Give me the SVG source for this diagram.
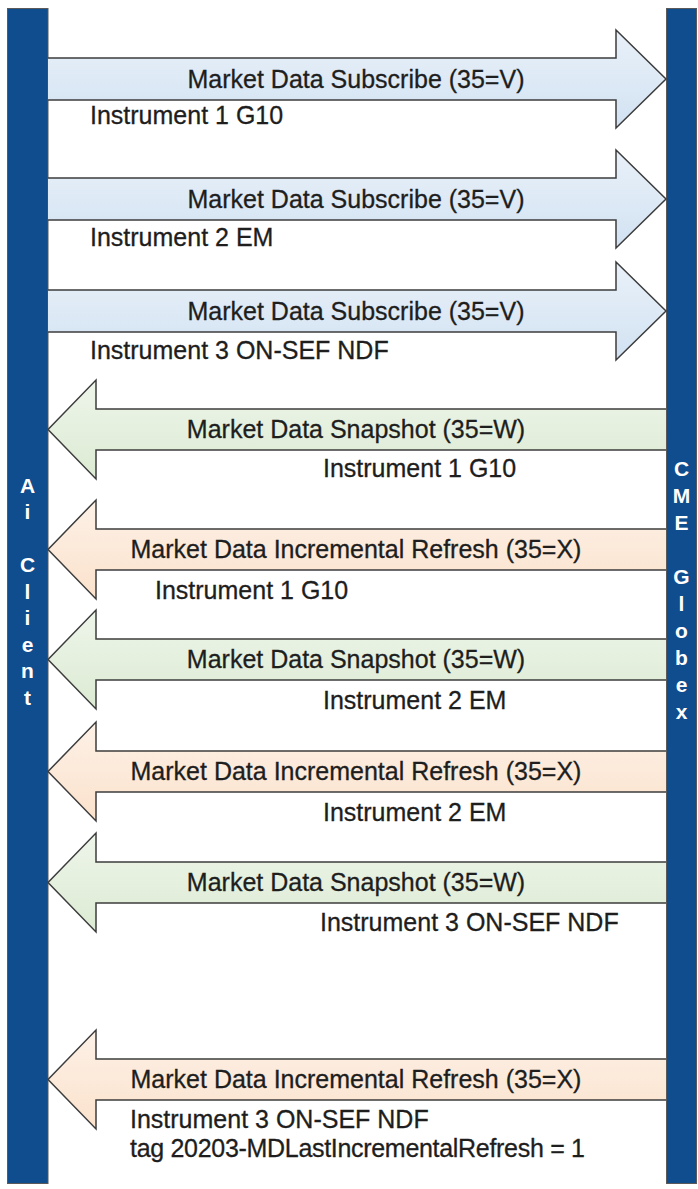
<svg xmlns="http://www.w3.org/2000/svg" width="698" height="1189" viewBox="0 0 698 1189">
<defs>
<linearGradient id="gBlue" x1="0" y1="0" x2="0" y2="1"><stop offset="0" stop-color="#e9f1f9"/><stop offset="1" stop-color="#d2e2f2"/></linearGradient>
<linearGradient id="gGreen" x1="0" y1="0" x2="0" y2="1"><stop offset="0" stop-color="#eef5ea"/><stop offset="1" stop-color="#dcebd3"/></linearGradient>
<linearGradient id="gOrange" x1="0" y1="0" x2="0" y2="1"><stop offset="0" stop-color="#fdf1e7"/><stop offset="1" stop-color="#fbe2cc"/></linearGradient>
</defs>
<style>
.bar{fill:#0f4d8e;stroke:#5a5a5a;stroke-width:1}
.bl{font-family:"Liberation Sans",Arial,sans-serif;font-weight:bold;font-size:21px;fill:#ffffff;text-anchor:middle}
.arr{stroke:#3c3c3c;stroke-width:1.5;stroke-linejoin:miter}
.blue{fill:url(#gBlue)}
.green{fill:url(#gGreen)}
.orange{fill:url(#gOrange)}
.lbl{font-family:"Liberation Sans",Arial,sans-serif;font-size:25px;fill:#1e1e1e;stroke:#1e1e1e;stroke-width:0.3;text-anchor:middle}
.sub{font-family:"Liberation Sans",Arial,sans-serif;font-size:25px;fill:#1e1e1e;stroke:#1e1e1e;stroke-width:0.3}
</style>
<rect width="698" height="1189" fill="#ffffff"/>
<g id="ai-client">
<rect class="bar" x="7.5" y="8.5" width="40.5" height="1175"/>
<text class="bl" x="27.5" y="492.5"><tspan x="27.5">A</tspan><tspan x="27.5" dy="26.5">i</tspan><tspan x="27.5" dy="53">C</tspan><tspan x="27.5" dy="26.5">l</tspan><tspan x="27.5" dy="26.5">i</tspan><tspan x="27.5" dy="26.5">e</tspan><tspan x="27.5" dy="26.5">n</tspan><tspan x="27.5" dy="26.5">t</tspan></text>
</g>
<g id="cme-globex">
<rect class="bar" x="666.5" y="8.5" width="30" height="1175"/>
<text class="bl" x="681.5" y="475.5"><tspan x="681.5">C</tspan><tspan x="681.5" dy="27">M</tspan><tspan x="681.5" dy="27">E</tspan><tspan x="681.5" dy="54">G</tspan><tspan x="681.5" dy="27">l</tspan><tspan x="681.5" dy="27">o</tspan><tspan x="681.5" dy="27">b</tspan><tspan x="681.5" dy="27">e</tspan><tspan x="681.5" dy="27">x</tspan></text>
</g>
<g id="connectors">
<g id="msg1">
<path class="arr blue" d="M48,58 H616 V30 L666,79 L616,128 V100 H48"/>
<text class="lbl" x="356" y="88">Market Data Subscribe (35=V)</text>
<text class="sub" x="90" y="124">Instrument 1 G10</text>
</g>
<g id="msg2">
<path class="arr blue" d="M48,178 H616 V150 L666,199 L616,248 V220 H48"/>
<text class="lbl" x="356" y="208">Market Data Subscribe (35=V)</text>
<text class="sub" x="90" y="246">Instrument 2 EM</text>
</g>
<g id="msg3">
<path class="arr blue" d="M48,290 H616 V262 L666,311 L616,360 V332 H48"/>
<text class="lbl" x="356" y="320">Market Data Subscribe (35=V)</text>
<text class="sub" x="90" y="359">Instrument 3 ON-SEF NDF</text>
</g>
<g id="msg4">
<path class="arr green" d="M666,409 H96 V380 L48,429.5 L96,479 V450 H666"/>
<text class="lbl" x="356" y="438">Market Data Snapshot (35=W)</text>
<text class="sub" x="323" y="477">Instrument 1 G10</text>
</g>
<g id="msg5">
<path class="arr orange" d="M666,529 H96 V500 L48,549.5 L96,599 V570 H666"/>
<text class="lbl" x="356" y="558">Market Data Incremental Refresh (35=X)</text>
<text class="sub" x="155" y="599">Instrument 1 G10</text>
</g>
<g id="msg6">
<path class="arr green" d="M666,639 H96 V610 L48,659.5 L96,709 V680 H666"/>
<text class="lbl" x="356" y="668">Market Data Snapshot (35=W)</text>
<text class="sub" x="323" y="709">Instrument 2 EM</text>
</g>
<g id="msg7">
<path class="arr orange" d="M666,751 H96 V722 L48,771.5 L96,821 V792 H666"/>
<text class="lbl" x="356" y="780">Market Data Incremental Refresh (35=X)</text>
<text class="sub" x="323" y="821">Instrument 2 EM</text>
</g>
<g id="msg8">
<path class="arr green" d="M666,862 H96 V833 L48,882.5 L96,932 V903 H666"/>
<text class="lbl" x="356" y="891">Market Data Snapshot (35=W)</text>
<text class="sub" x="320" y="931">Instrument 3 ON-SEF NDF</text>
</g>
<g id="msg9">
<path class="arr orange" d="M666,1059 H96 V1030 L48,1079.5 L96,1129 V1100 H666"/>
<text class="lbl" x="356" y="1088">Market Data Incremental Refresh (35=X)</text>
<text class="sub" x="130" y="1128">Instrument 3 ON-SEF NDF</text>
<text class="sub" x="130" y="1157" textLength="455">tag 20203-MDLastIncrementalRefresh = 1</text>
</g>
</g>
</svg>
